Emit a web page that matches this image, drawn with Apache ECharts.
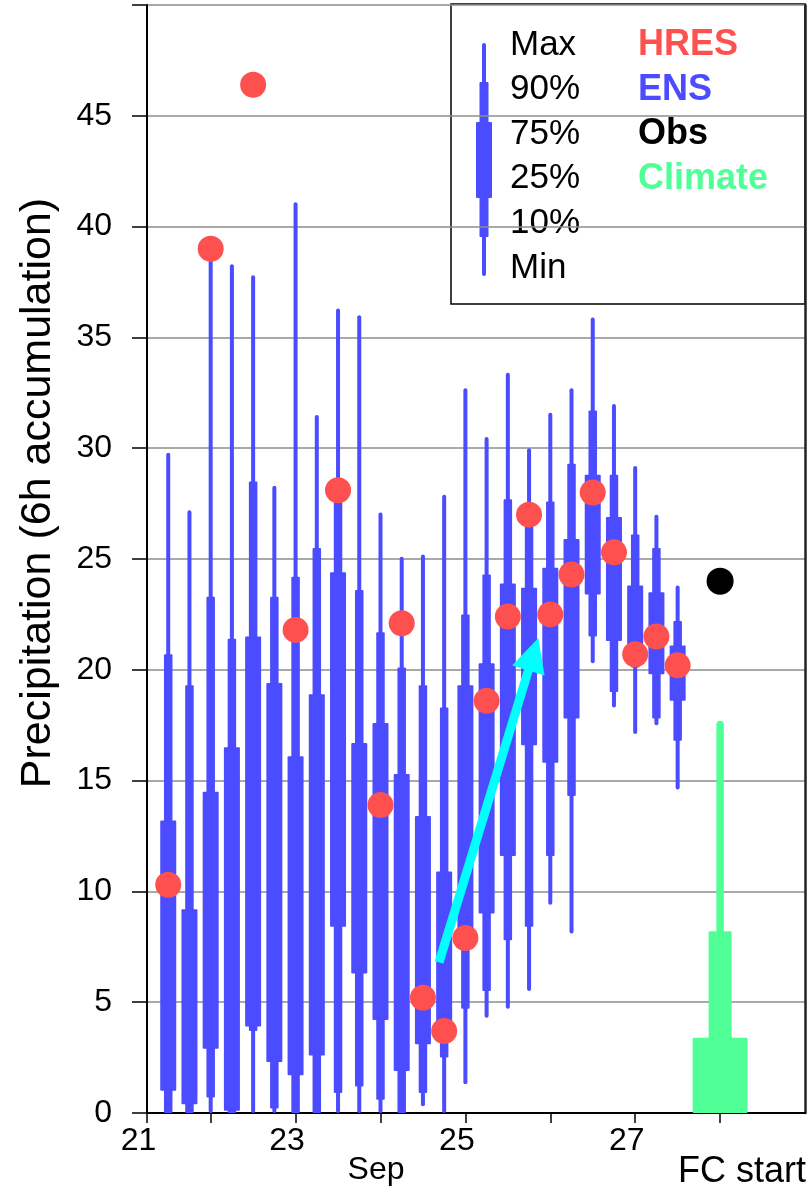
<!DOCTYPE html>
<html>
<head>
<meta charset="utf-8">
<script src="https://cdn.jsdelivr.net/npm/echarts@6/dist/echarts.min.js"></script>
<style>
  html, body { margin: 0; padding: 0; background: #fff; }
  #chart { width: 809px; height: 1190px; }
</style>
</head>
<body>
<div id="chart"></div>
<script>
// ENS forecast steps (day of September, every 6h)
const steps = [21.5, 21.75, 22, 22.25, 22.5, 22.75, 23, 23.25, 23.5, 23.75, 24, 24.25, 24.5,
  24.75, 25, 25.25, 25.5, 25.75, 26, 26.25, 26.5, 26.75, 27, 27.25, 27.5];
const ensMin = [0, 0, 0, 0, 0, 0, 0, 0, 0, 0, 0, 0, 0.3, 0, 1.3, 4.3, 4.7, 5.5, 9.4, 8.1, 20.3, 18.3, 17.1, 17.5, 14.6];
const ensP10 = [0, 0, 0.7, 0, 3.7, 0.2, 0, 0, 0.9, 1.2, 0.6, 0, 0.9, 2.5, 4.7, 5.5, 7.8, 8.4, 11.6, 14.3, 21.5, 19.0, 20.1, 17.8, 16.8];
const ensP25 = [1.0, 0.4, 2.9, 0.1, 3.9, 2.3, 1.7, 2.6, 8.4, 6.3, 4.2, 1.9, 3.1, 3.6, 7.6, 9.0, 11.6, 16.6, 15.8, 17.8, 23.4, 21.3, 20.5, 19.8, 18.6];
const ensP75 = [13.2, 9.2, 14.5, 16.5, 21.5, 19.4, 16.1, 18.9, 24.4, 16.7, 17.6, 15.3, 13.4, 10.9, 19.3, 20.3, 23.9, 23.7, 24.6, 25.9, 28.8, 26.9, 23.8, 23.5, 21.1];
const ensP90 = [20.7, 19.3, 23.3, 21.4, 28.5, 23.3, 24.2, 25.5, 27.7, 23.6, 21.7, 20.1, 19.3, 18.3, 22.5, 24.3, 27.7, 26.6, 27.6, 29.3, 31.7, 28.8, 26.1, 25.5, 22.2];
const ensMax = [29.8, 27.2, 38.5, 38.3, 37.8, 28.3, 41.1, 31.5, 36.3, 36.0, 27.1, 25.1, 25.2, 27.9, 32.7, 30.5, 33.4, 30.0, 31.6, 32.7, 35.9, 32.0, 29.2, 27.0, 23.8];
const hres = [10.3, null, 39.0, null, 46.4, null, 21.8, null, 28.1, null, 13.9, 22.1, 5.2, 3.7, 7.9, 18.6, 22.4, 27.0, 22.5, 24.3, 28.0, 25.3, 20.7, 21.5, 20.2];

// climate distribution and observation at FC start
const climateStep = [28];
const climateMin = [0];
const climateP10 = [0];
const climateP25 = [0];
const climateP75 = [3.4];
const climateP90 = [8.2];
const climateMax = [17.7];
const obsStep = [28];
const obsValue = [24.0];

// trend arrow (start, tip)
const arrowFrom = [24.69, 6.8];
const arrowTo = [25.8, 20.7];

// axis labels
const xTickValues = [21.25, 22, 23, 24, 25, 26, 27, 28];
const xLabelValues = [21.25, 23, 25, 27];
const xTickLabels = ['21', '23', '25', '27'];

const FONT = '"Liberation Sans", Arial, sans-serif';
const BLUE = '#4b4bff';
const RED = '#ff5050';
const GREEN = '#50ff96';

const chart = echarts.init(document.getElementById('chart'));

// draw min-max / 10-90 / 25-75 as three stacked bars
function boxRenderer(widths, color) {
  return function (params, api) {
    const t = api.value(0);
    const x = api.coord([t, 0])[0];
    const y = [1, 2, 3, 4, 5, 6].map((d) => api.coord([t, api.value(d)])[1]);
    const seg = (lo, hi, w, r) => ({
      type: 'rect',
      shape: { x: x - w / 2, y: y[hi], width: w, height: Math.max(y[lo] - y[hi], 0), r: r },
      style: { fill: color }
    });
    return {
      type: 'group',
      children: [seg(0, 5, widths[0], widths[0] / 2), seg(1, 4, widths[1], 1), seg(2, 3, widths[2], 1)]
    };
  };
}

const ensData = steps.map((t, i) => [t, ensMin[i], ensP10[i], ensP25[i], ensP75[i], ensP90[i], ensMax[i]]);
const climateData = climateStep.map((t, i) => [t, climateMin[i], climateP10[i], climateP25[i], climateP75[i], climateP90[i], climateMax[i]]);
const hresData = steps.map((t, i) => [t, hres[i]]).filter((d) => d[1] !== null);
const obsData = obsStep.map((t, i) => [t, obsValue[i]]);

const legendRows = ['Max', '90%', '75%', '25%', '10%', 'Min'];
const legendNames = [['HRES', RED], ['ENS', BLUE], ['Obs', '#000'], ['Climate', GREEN]];

const legendGraphics = [
  { type: 'rect', shape: { x: 451, y: 4, width: 354, height: 300 },
    style: { fill: '#fff', stroke: '#000', lineWidth: 1.5 } },
  { type: 'rect', shape: { x: 482, y: 43, width: 4, height: 233, r: 2 }, style: { fill: BLUE } },
  { type: 'rect', shape: { x: 479.5, y: 82, width: 9, height: 155, r: 1 }, style: { fill: BLUE } },
  { type: 'rect', shape: { x: 476, y: 122, width: 16, height: 76, r: 1 }, style: { fill: BLUE } }
];
legendRows.forEach((txt, i) => {
  legendGraphics.push({
    type: 'text', x: 510, y: 45 + i * 44.6,
    style: { text: txt, font: '35px ' + FONT, fill: '#000', textAlign: 'left', textVerticalAlign: 'middle', align: 'left', verticalAlign: 'middle' }
  });
});
legendNames.forEach((n, i) => {
  legendGraphics.push({
    type: 'text', x: 638, y: 45 + i * 44.6,
    style: { text: n[0], font: 'bold 36px ' + FONT, fill: n[1], textAlign: 'left', textVerticalAlign: 'middle', align: 'left', verticalAlign: 'middle' }
  });
});

const option = {
  animation: false,
  backgroundColor: '#fff',
  grid: { left: 147, right: 4, top: 5, bottom: 77, containLabel: false },
  xAxis: {
    type: 'value',
    min: 21.25,
    max: 29,
    axisLine: { show: true, onZero: false, lineStyle: { color: '#000', width: 2 } },
    axisTick: { show: true, length: 10, customValues: xTickValues, lineStyle: { color: '#000', width: 1.5 } },
    axisLabel: {
      customValues: xLabelValues,
      formatter: (v) => xTickLabels[xLabelValues.indexOf(v)],
      margin: 12,
      fontSize: 32,
      fontFamily: FONT,
      color: '#000',
      padding: [0, 17, 0, 0]
    },
    splitLine: { show: false }
  },
  yAxis: [
    {
      type: 'value',
      min: 0,
      max: 50,
      interval: 5,
      axisLine: { show: true, lineStyle: { color: '#000', width: 2 } },
      axisTick: { show: true, length: 15, lineStyle: { color: '#000', width: 1.5 } },
      axisLabel: {
        margin: 35,
        fontSize: 32,
        fontFamily: FONT,
        color: '#000',
        formatter: (v) => (v === 50 ? '' : String(v))
      },
      splitLine: { show: true, lineStyle: { color: '#8c8c8c', width: 1.5 } }
    },
    {
      type: 'value',
      position: 'right',
      min: 0,
      max: 50,
      interval: 5,
      axisLine: { show: true, lineStyle: { color: '#222', width: 2.5 } },
      axisTick: { show: false },
      axisLabel: { show: false },
      splitLine: { show: false }
    }
  ],
  series: [
    {
      name: 'ENS',
      type: 'custom',
      renderItem: boxRenderer([4, 8.5, 16], BLUE),
      encode: { x: 0, y: [1, 2, 3, 4, 5, 6] },
      data: ensData,
      z: 2
    },
    {
      name: 'Climate',
      type: 'custom',
      renderItem: boxRenderer([7.5, 23, 55], GREEN),
      encode: { x: 0, y: [1, 2, 3, 4, 5, 6] },
      data: climateData,
      z: 2
    },
    {
      name: 'Trend',
      type: 'lines',
      coordinateSystem: 'cartesian2d',
      polyline: false,
      symbol: ['none', 'triangle'],
      symbolSize: [34, 34],
      lineStyle: { color: '#00ffff', width: 9, opacity: 1 },
      itemStyle: { color: '#00ffff' },
      data: [{ coords: [arrowFrom, arrowTo] }],
      z: 3
    },
    {
      name: 'HRES',
      type: 'scatter',
      symbolSize: 26,
      itemStyle: { color: RED, opacity: 1 },
      data: hresData,
      z: 4
    },
    {
      name: 'Obs',
      type: 'scatter',
      symbolSize: 27,
      itemStyle: { color: '#000', opacity: 1 },
      data: obsData,
      z: 4
    }
  ],
  graphic: [
    {
      type: 'text',
      x: 38,
      y: 493,
      rotation: Math.PI / 2,
      style: {
        text: 'Precipitation (6h accumulation)',
        font: '43px ' + FONT,
        fill: '#000',
        textAlign: 'center', textVerticalAlign: 'middle', align: 'center', verticalAlign: 'middle'
      }
    },
    {
      type: 'text', x: 376, y: 1170,
      style: { text: 'Sep', font: '32px ' + FONT, fill: '#000', textAlign: 'center', textVerticalAlign: 'middle', align: 'center', verticalAlign: 'middle' }
    },
    {
      type: 'text', x: 806, y: 1172,
      style: { text: 'FC start', font: '36px ' + FONT, fill: '#000', textAlign: 'right', textVerticalAlign: 'middle', align: 'right', verticalAlign: 'middle' }
    },
    {
      type: 'group',
      z: 100,
      children: legendGraphics
    }
  ]
};

chart.setOption(option);
window.addEventListener('resize', () => chart.resize());
</script>
</body>
</html>
